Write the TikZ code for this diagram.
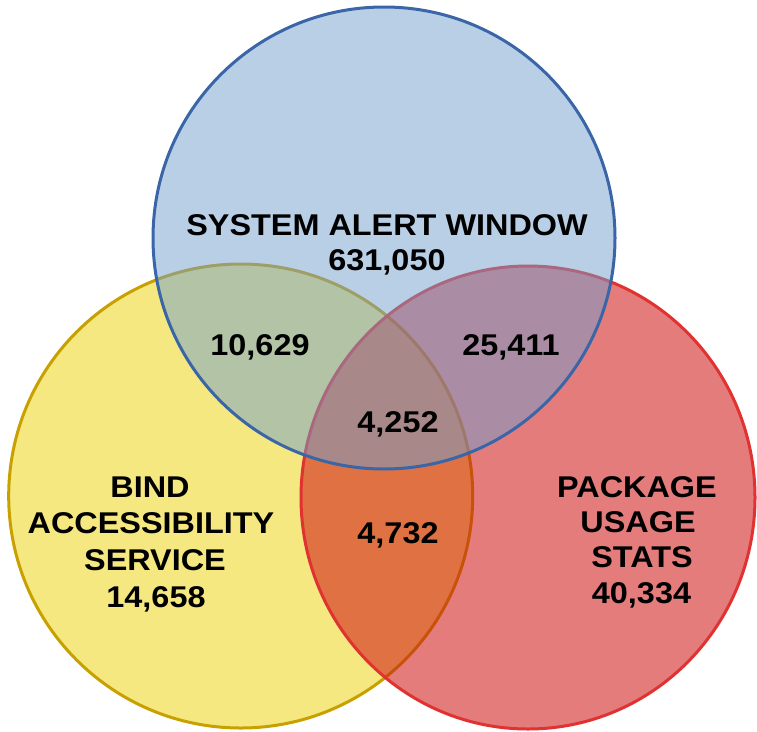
\documentclass[tikz,border=0pt]{standalone}
\usepackage{fontspec}
\setmainfont{Liberation Sans}[FakeStretch=1.08]
\definecolor{bluefill}{RGB}{115,159,205}
\definecolor{bluestroke}{RGB}{58,102,168}
\definecolor{yellowfill}{RGB}{245,232,128}
\definecolor{yellowstroke}{RGB}{200,160,0}
\definecolor{redfill}{RGB}{205,17,17}
\definecolor{redstroke}{RGB}{225,50,50}
\tikzset{
  lbl/.style={anchor=base, inner sep=0pt, font=\fontsize{30}{35}\selectfont\bfseries},
}
\begin{document}
\begin{tikzpicture}[x=1pt,y=-1pt]
\useasboundingbox (0,0) rectangle (757,731);
% yellow
\fill[yellowfill] (240.7,496) circle[radius=232];
\draw[yellowstroke, line width=3pt] (240.7,496) circle[radius=232];
% red
\fill[redfill, fill opacity=0.55] (528,497.5) ellipse[x radius=227, y radius=231.5];
\draw[redstroke, line width=3pt] (528,497.5) ellipse[x radius=227, y radius=231.5];
% blue
\fill[bluefill, fill opacity=0.5] (384,238) circle[radius=231];
\draw[bluestroke, line width=3pt] (384,238) circle[radius=231];
% labels
\node[lbl] (sys1) at (387,235) {SYSTEM ALERT WINDOW};
\node[lbl] (sys2) at (387,270) {631,050};
\node[lbl] (b1) at (150,497) {BIND};
\node[lbl] (b2) at (151,533) {ACCESSIBILITY};
\node[lbl] (b3) at (155,570) {SERVICE};
\node[lbl] (b4) at (156,607) {14,658};
\node[lbl] (p1) at (637,497) {PACKAGE};
\node[lbl] (p2) at (638,532) {USAGE};
\node[lbl] (p3) at (642,567) {STATS};
\node[lbl] (p4) at (641.5,603) {40,334};
\node[lbl] (yb) at (260,355) {10,629};
\node[lbl] (br) at (511,355) {25,411};
\node[lbl] (ybr) at (398,432) {4,252};
\node[lbl] (yr) at (398,543) {4,732};
\end{tikzpicture}
\end{document}
